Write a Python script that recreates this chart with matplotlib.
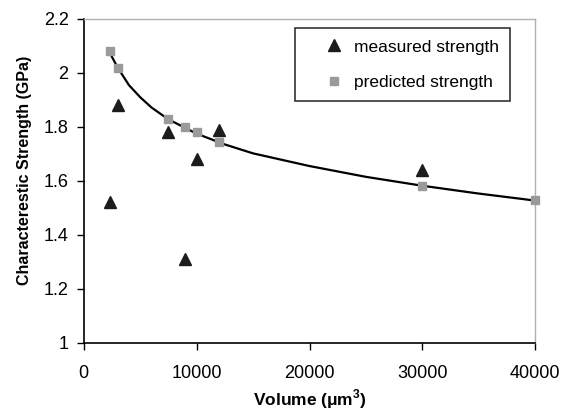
import matplotlib.pyplot as plt
import numpy as np
from matplotlib.legend_handler import HandlerLine2D

plt.rcParams['font.family'] = ['Liberation Sans', 'DejaVu Sans']
plt.rcParams['mathtext.fontset'] = 'custom'
plt.rcParams['mathtext.rm'] = 'Liberation Sans'
plt.rcParams['mathtext.bf'] = 'Liberation Sans:bold'

## Measured strength (volume in um^3, strength in GPa)
meas_vol = [2300, 3000, 7500, 9000, 10000, 12000, 30000]
meas_str = [1.52, 1.88, 1.78, 1.31, 1.68, 1.79, 1.64]

## Predicted strength
pred_vol = [2300, 3000, 7500, 9000, 10000, 12000, 30000, 40000]
pred_str = [2.08, 2.02, 1.83, 1.80, 1.78, 1.745, 1.58, 1.53]

## Fitted curve
curve_vol = [2300, 3000, 4000, 5000, 6000, 7500, 10000, 12500, 15000,
             20000, 25000, 30000, 35000, 40000]
curve_str = [2.075, 2.02, 1.955, 1.91, 1.872, 1.828, 1.775, 1.735, 1.702,
             1.655, 1.615, 1.582, 1.553, 1.527]

xticks = [0, 10000, 20000, 30000, 40000]
yticks = [1, 1.2, 1.4, 1.6, 1.8, 2, 2.2]
yticklabels = ['1', '1.2', '1.4', '1.6', '1.8', '2', '2.2']


class ShiftedMarker(HandlerLine2D):
    """ Legend marker moved a bit right inside its handle box """
    def __init__(self, shift=4.5, **kw):
        super().__init__(**kw)
        self.shift = shift

    def create_artists(self, legend, orig_handle, xdescent, ydescent,
                       width, height, fontsize, trans):
        artists = super().create_artists(legend, orig_handle, xdescent, ydescent,
                                         width, height, fontsize, trans)
        for a in artists:
            a.set_xdata(np.asarray(a.get_xdata()) + self.shift)
        return artists


fig = plt.figure(figsize=(5.7, 4.13), dpi=100)
ax = fig.add_axes([0.147, 0.170, 0.792, 0.784])

ax.plot(curve_vol, curve_str, color='black', linewidth=1.6, zorder=2, clip_on=False)
pred, = ax.plot(pred_vol, pred_str, linestyle='', marker='s', markersize=6,
                color='#9a9a9a', markeredgecolor='#9a9a9a', label='predicted strength',
                zorder=3, clip_on=False)
meas, = ax.plot(meas_vol, meas_str, linestyle='', marker='^', markersize=8.5,
                color='#1c1c1c', label='measured strength', zorder=4, clip_on=False)

ax.set_xlim(0, 40000)
ax.set_ylim(1, 2.2)
ax.set_xticks(xticks)
ax.set_yticks(yticks)
ax.set_yticklabels(yticklabels)
ax.tick_params(axis='both', direction='out', length=5, width=1, labelsize=13)
ax.tick_params(axis='x', pad=11)
ax.tick_params(axis='y', pad=6)

for side in ['top', 'right']:
    ax.spines[side].set_color('#b0b0b0')
    ax.spines[side].set_linewidth(1)
for side in ['left', 'bottom']:
    ax.spines[side].set_color('black')
    ax.spines[side].set_linewidth(1.2)

ax.set_xlabel(r'Volume ($\mathbf{\mu}$m$^{\mathbf{3}}$)', fontsize=12.5,
              fontweight='bold', labelpad=4)
ax.set_ylabel('Characterestic Strength (GPa)', fontsize=11.5, fontweight='bold')
ax.yaxis.set_label_coords(-0.114, 0.534)

leg = ax.legend([meas, pred], ['measured strength', 'predicted strength'],
                loc='upper right', bbox_to_anchor=(0.945, 0.972), fontsize=12.5,
                frameon=True, fancybox=False, edgecolor='#333333', framealpha=1,
                borderpad=0.65, labelspacing=1.18, handletextpad=0.25,
                handlelength=2.5, borderaxespad=0,
                handler_map={meas: ShiftedMarker(), pred: ShiftedMarker()})
leg.get_frame().set_linewidth(1.2)

fig.savefig('out.png', dpi=100)
